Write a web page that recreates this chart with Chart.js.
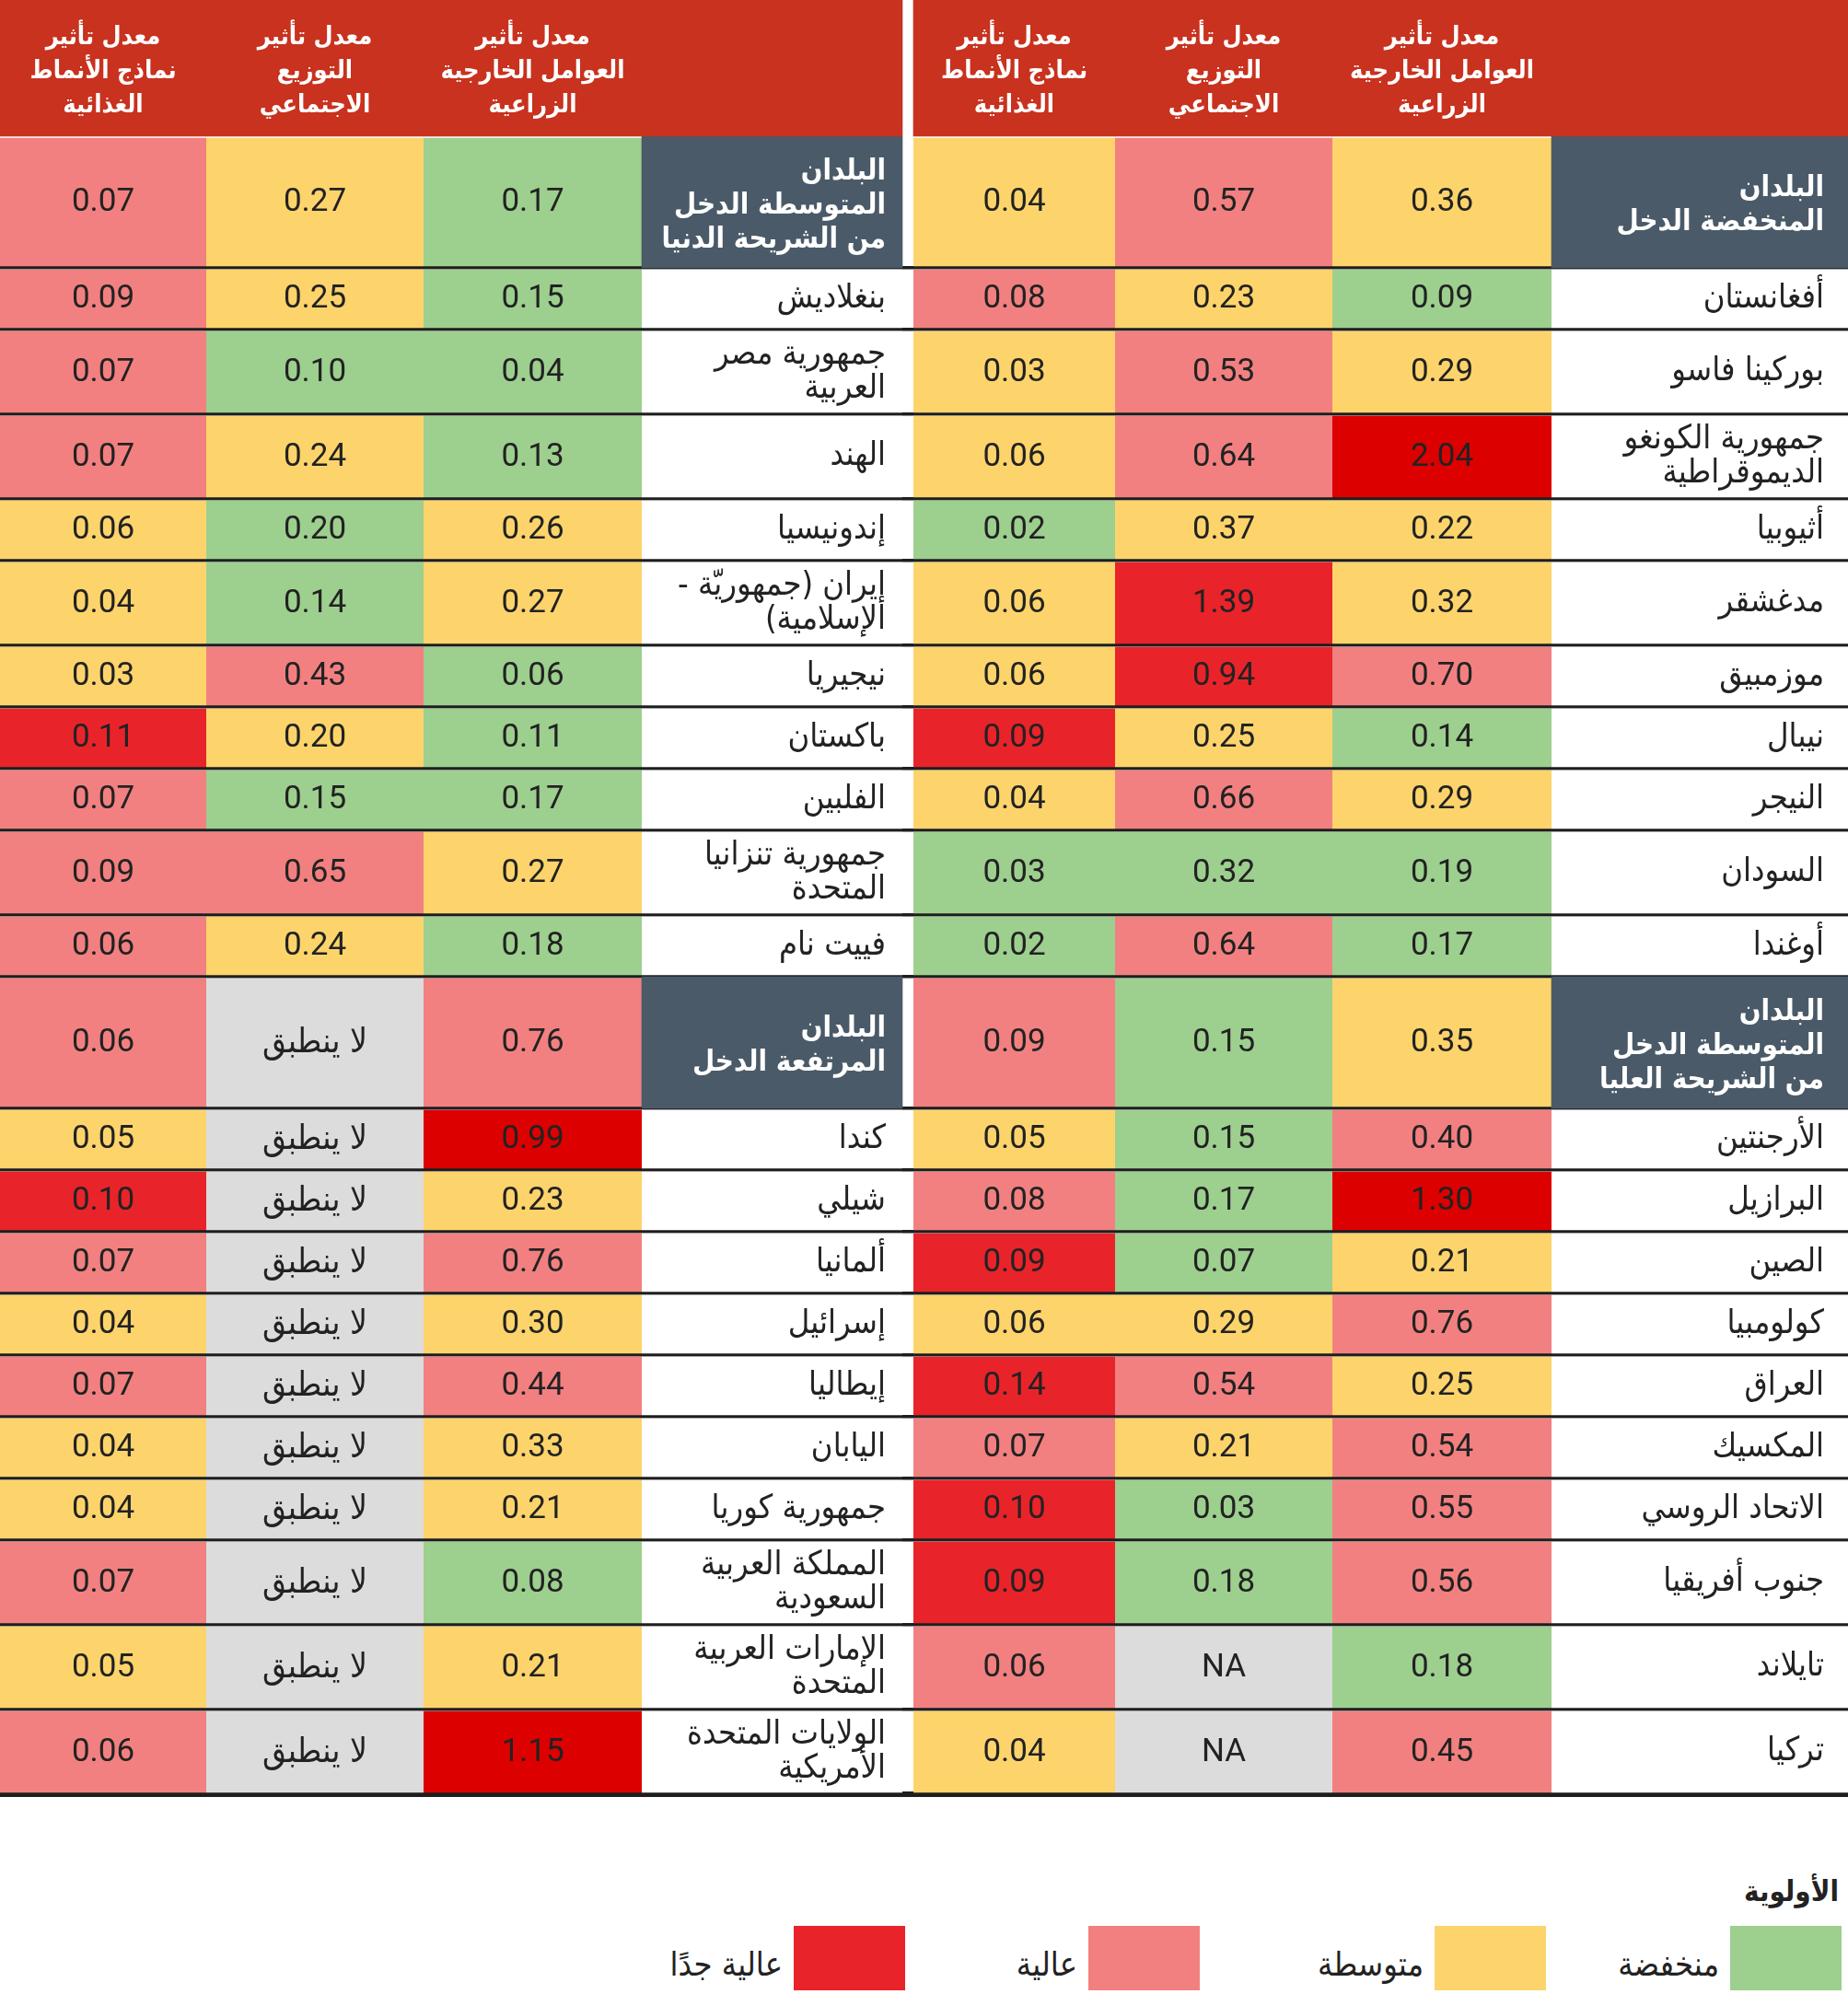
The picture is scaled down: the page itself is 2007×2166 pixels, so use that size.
<!DOCTYPE html>
<html lang="ar">
<head>
<meta charset="UTF-8" />
<title>الأولوية</title>
<script src="https://cdn.jsdelivr.net/npm/chart.js"></script>
<style>
  html, body { margin: 0; padding: 0; background: #fff; }
  #page { position: relative; width: 2007px; height: 2166px; overflow: hidden; }
  #tableBox { position: absolute; left: 0; top: 0; width: 2007px; height: 1960px; }
  #legend { position: absolute; left: 0; top: 1960px; width: 2007px; height: 206px;
            font-family: "DejaVu Sans Condensed", "DejaVu Sans", sans-serif; color: #222; }
  #legend .title { position: absolute; right: 10px; top: 76px; font-size: 31px; font-weight: bold; direction: rtl; }
  #legend .item { position: absolute; top: 132px; display: flex; flex-direction: row; align-items: center; direction: rtl; }
  #legend .swatch { width: 121px; height: 70px; }
  #legend .label { font-size: 36px; margin-right: 12px; padding-top: 12px; white-space: nowrap; }
</style>
</head>
<body>
<div id="page">
  <div id="tableBox"><canvas id="table"></canvas></div>
  <div id="legend"></div>
</div>
<script>
// column titles (agri externalities, social distribution, dietary patterns)
const colTitles = [
  'معدل تأثير\nالعوامل الخارجية\nالزراعية',
  'معدل تأثير\nالتوزيع\nالاجتماعي',
  'معدل تأثير\nنماذج الأنماط\nالغذائية'
];

// priority levels: L low, M medium, H high, V very high, X extreme, N not applicable
const priorityKeys = ['L', 'M', 'H', 'V'];
const priorityLabels = ['منخفضة', 'متوسطة', 'عالية', 'عالية جدًا'];
const priorityTitle = 'الأولوية';

// right half, top: low income (row 0 = group)
const lowNames = ['البلدان\nالمنخفضة الدخل', 'أفغانستان', 'بوركينا فاسو', 'جمهورية الكونغو\nالديموقراطية', 'أثيوبيا', 'مدغشقر', 'موزمبيق', 'نيبال', 'النيجر', 'السودان', 'أوغندا'];
const lowAgri   = [0.36, 0.09, 0.29, 2.04, 0.22, 0.32, 0.70, 0.14, 0.29, 0.19, 0.17];
const lowSocial = [0.57, 0.23, 0.53, 0.64, 0.37, 1.39, 0.94, 0.25, 0.66, 0.32, 0.64];
const lowDiet   = [0.04, 0.08, 0.03, 0.06, 0.02, 0.06, 0.06, 0.09, 0.04, 0.03, 0.02];
const lowLevels = ['MHM', 'LMH', 'MHM', 'XHM', 'MML', 'MVM', 'HVM', 'LMV', 'MHM', 'LLL', 'LHL'];

// right half, bottom: upper middle income
const upperNames = ['البلدان\nالمتوسطة الدخل\nمن الشريحة العليا', 'الأرجنتين', 'البرازيل', 'الصين', 'كولومبيا', 'العراق', 'المكسيك', 'الاتحاد الروسي', 'جنوب أفريقيا', 'تايلاند', 'تركيا'];
const upperAgri   = [0.35, 0.40, 1.30, 0.21, 0.76, 0.25, 0.54, 0.55, 0.56, 0.18, 0.45];
const upperSocial = [0.15, 0.15, 0.17, 0.07, 0.29, 0.54, 0.21, 0.03, 0.18, null, null];
const upperDiet   = [0.09, 0.05, 0.08, 0.09, 0.06, 0.14, 0.07, 0.10, 0.09, 0.06, 0.04];
const upperLevels = ['MLH', 'HLM', 'XLH', 'MLV', 'HMM', 'MHV', 'HMH', 'HLV', 'HLV', 'LNH', 'HNM'];

// left half, top: lower middle income
const lowerNames = ['البلدان\nالمتوسطة الدخل\nمن الشريحة الدنيا', 'بنغلاديش', 'جمهورية مصر\nالعربية', 'الهند', 'إندونيسيا', 'إيران (جمهوريّة -\nالإسلامية)', 'نيجيريا', 'باكستان', 'الفلبين', 'جمهورية تنزانيا\nالمتحدة', 'فييت نام'];
const lowerAgri   = [0.17, 0.15, 0.04, 0.13, 0.26, 0.27, 0.06, 0.11, 0.17, 0.27, 0.18];
const lowerSocial = [0.27, 0.25, 0.10, 0.24, 0.20, 0.14, 0.43, 0.20, 0.15, 0.65, 0.24];
const lowerDiet   = [0.07, 0.09, 0.07, 0.07, 0.06, 0.04, 0.03, 0.11, 0.07, 0.09, 0.06];
const lowerLevels = ['LMH', 'LMH', 'LLH', 'LMH', 'MLM', 'MLM', 'LHM', 'LMV', 'LLH', 'MHH', 'LMH'];

// left half, bottom: high income
const highNames = ['البلدان\nالمرتفعة الدخل', 'كندا', 'شيلي', 'ألمانيا', 'إسرائيل', 'إيطاليا', 'اليابان', 'جمهورية كوريا', 'المملكة العربية\nالسعودية', 'الإمارات العربية\nالمتحدة', 'الولايات المتحدة\nالأمريكية'];
const highAgri   = [0.76, 0.99, 0.23, 0.76, 0.30, 0.44, 0.33, 0.21, 0.08, 0.21, 1.15];
const highSocial = [null, null, null, null, null, null, null, null, null, null, null];
const highDiet   = [0.06, 0.05, 0.10, 0.07, 0.04, 0.07, 0.04, 0.04, 0.07, 0.05, 0.06];
const highLevels = ['HNH', 'XNM', 'MNV', 'HNH', 'MNM', 'HNH', 'MNM', 'MNM', 'LNH', 'MNM', 'XNH'];

const rightSections = [
  {names: lowNames, agri: lowAgri, social: lowSocial, diet: lowDiet, levels: lowLevels, na: 'NA'},
  {names: upperNames, agri: upperAgri, social: upperSocial, diet: upperDiet, levels: upperLevels, na: 'NA'}
];
const leftSections = [
  {names: lowerNames, agri: lowerAgri, social: lowerSocial, diet: lowerDiet, levels: lowerLevels, na: 'لا ينطبق'},
  {names: highNames, agri: highAgri, social: highSocial, diet: highDiet, levels: highLevels, na: 'لا ينطبق'}
];

// ---- layout / style ----
const W = 2007, H = 1960;
const LEFT_EDGES = [0, 224, 460, 697, 980];      // diet | social | agri | name
const RIGHT_EDGES = [992, 1211, 1447, 1685, 2007];
const HEAD_H = 148;
const ROW_H = {1: 67, 2: 92, 3: 143};
const COLORS = {L: '#9dcf8e', M: '#fdd46b', H: '#f28080', V: '#e9232a', X: '#dd0000', N: '#dcdcdc',
                head: '#c8321e', group: '#4a5a68', name: '#ffffff'};
const AR_FONT = '"DejaVu Sans Condensed", "DejaVu Sans", sans-serif';
const NUM_FONT = 'Roboto, "Liberation Sans", sans-serif';
const INK = '#222222';

function lineCount(s) { return s.split('\n').length; }

// cells of one half for one row, listed left to right
function halfCells(edges, sec, r) {
  const vals = [sec.diet[r], sec.social[r], sec.agri[r]];
  const lv = sec.levels[r];
  const lvOrder = [lv[2], lv[1], lv[0]];
  const cells = vals.map((v, k) => ({
    l: edges[k], r: edges[k + 1],
    kind: v === null ? 'na' : 'value',
    color: COLORS[lvOrder[k]],
    text: v === null ? sec.na : v.toFixed(2)
  }));
  cells.push({l: edges[3], r: edges[4], kind: r === 0 ? 'group' : 'name',
              color: r === 0 ? COLORS.group : COLORS.name, text: sec.names[r]});
  return cells;
}

function headCells(edges) {
  const order = [colTitles[2], colTitles[1], colTitles[0], ''];
  return order.map((t, k) => ({l: edges[k], r: edges[k + 1], kind: 'head', color: COLORS.head, text: t}));
}

const rows = [];
let yTop = 0;
rows.push({label: 'header', top: 0, h: HEAD_H, cells: headCells(LEFT_EDGES).concat(headCells(RIGHT_EDGES))});
yTop = HEAD_H;
for (let s = 0; s < 2; s++) {
  const L = leftSections[s], R = rightSections[s];
  for (let r = 0; r < R.names.length; r++) {
    const h = ROW_H[Math.max(lineCount(L.names[r]), lineCount(R.names[r]))];
    rows.push({label: R.names[r], top: yTop, h: h,
               cells: halfCells(LEFT_EDGES, L, r).concat(halfCells(RIGHT_EDGES, R, r))});
    yTop += h;
  }
}
const tableBottom = yTop;
const ruleLines = rows.slice(2).map(r => r.top).concat([tableBottom]);

const cellText = {
  id: 'cellText',
  afterDatasetsDraw(chart) {
    const ctx = chart.ctx;
    ctx.save();
    ctx.textBaseline = 'middle';
    chart.data.datasets.forEach((ds, di) => {
      const meta = chart.getDatasetMeta(di);
      meta.data.forEach((bar, ci) => {
        const c = ds.cells[ci];
        if (!c.text) return;
        const p = bar.getProps(['x', 'y', 'base'], true);
        const left = Math.min(p.x, p.base), right = Math.max(p.x, p.base);
        const cx = (left + right) / 2, cy = p.y;
        if (c.kind === 'value') {
          ctx.direction = 'ltr';
          ctx.textAlign = 'center';
          ctx.fillStyle = INK;
          ctx.font = '35px ' + NUM_FONT;
          ctx.fillText(c.text, cx, cy + 1);
        } else if (c.kind === 'na') {
          ctx.direction = 'rtl';
          ctx.textAlign = 'center';
          ctx.fillStyle = INK;
          ctx.font = (c.text === 'NA' ? '35px ' + NUM_FONT : '37px ' + AR_FONT);
          ctx.fillText(c.text, cx, cy + 1);
        } else {
          const lines = c.text.split('\n');
          const lh = 37;
          ctx.direction = 'rtl';
          if (c.kind === 'head') {
            ctx.textAlign = 'center';
            ctx.fillStyle = '#ffffff';
            ctx.font = 'bold 27px ' + AR_FONT;
            lines.forEach((ln, i) => ctx.fillText(ln, cx, cy + 4 + (i - (lines.length - 1) / 2) * lh));
          } else {
            const pad = right > W - 5 ? 26 : 18;
            const isGroup = c.kind === 'group';
            ctx.textAlign = 'right';
            ctx.fillStyle = isGroup ? '#ffffff' : INK;
            ctx.font = (isGroup ? 'bold 31px ' : '36px ') + AR_FONT;
            const dy = isGroup ? 4 : 0;
            lines.forEach((ln, i) => ctx.fillText(ln, right - pad, cy + dy + (i - (lines.length - 1) / 2) * lh));
          }
        }
      });
    });
    ctx.restore();
  }
};

new Chart(document.getElementById('table'), {
  type: 'bar',
  data: {
    datasets: rows.map(row => ({
      label: row.label,
      cells: row.cells,
      data: row.cells.map(c => ({x: [c.l, c.r], y: row.top + row.h / 2})),
      barThickness: row.h,
      grouped: false,
      backgroundColor: row.cells.map(c => c.color),
      borderColor: 'rgba(0,0,0,0)',
      borderSkipped: false,
      borderWidth: (ctx) => {
        const c = row.cells[ctx.dataIndex];
        if (!c || c.kind === 'head' || c.kind === 'group') return 0;
        return {top: 2, bottom: 2, left: 0, right: 0};
      }
    }))
  },
  options: {
    indexAxis: 'y',
    responsive: true,
    maintainAspectRatio: false,
    animation: false,
    layout: {padding: 0},
    plugins: {legend: {display: false}, tooltip: {enabled: false}},
    scales: {
      x: {type: 'linear', min: 0, max: W, display: false, offset: false},
      y: {
        type: 'linear', min: 0, max: H, reverse: true, offset: false,
        afterBuildTicks: (scale) => { scale.ticks = ruleLines.map(v => ({value: v})); },
        ticks: {display: false},
        border: {display: false},
        grid: {
          offset: false,
          color: '#1e1e1e',
          drawTicks: false,
          lineWidth: (c) => (c.tick && c.tick.value === tableBottom ? 6 : 3.5)
        }
      }
    }
  },
  plugins: [cellText]
});

// legend
const legend = document.getElementById('legend');
const SLOT_RIGHT = [7, 328, 704, 1024];
const title = document.createElement('div');
title.className = 'title';
title.textContent = priorityTitle;
legend.appendChild(title);
priorityKeys.forEach((k, i) => {
  const item = document.createElement('div');
  item.className = 'item';
  item.style.right = SLOT_RIGHT[i] + 'px';
  const sw = document.createElement('div');
  sw.className = 'swatch';
  sw.style.background = COLORS[k];
  const lb = document.createElement('div');
  lb.className = 'label';
  lb.textContent = priorityLabels[i];
  item.appendChild(sw);
  item.appendChild(lb);
  legend.appendChild(item);
});
</script>
</body>
</html>
